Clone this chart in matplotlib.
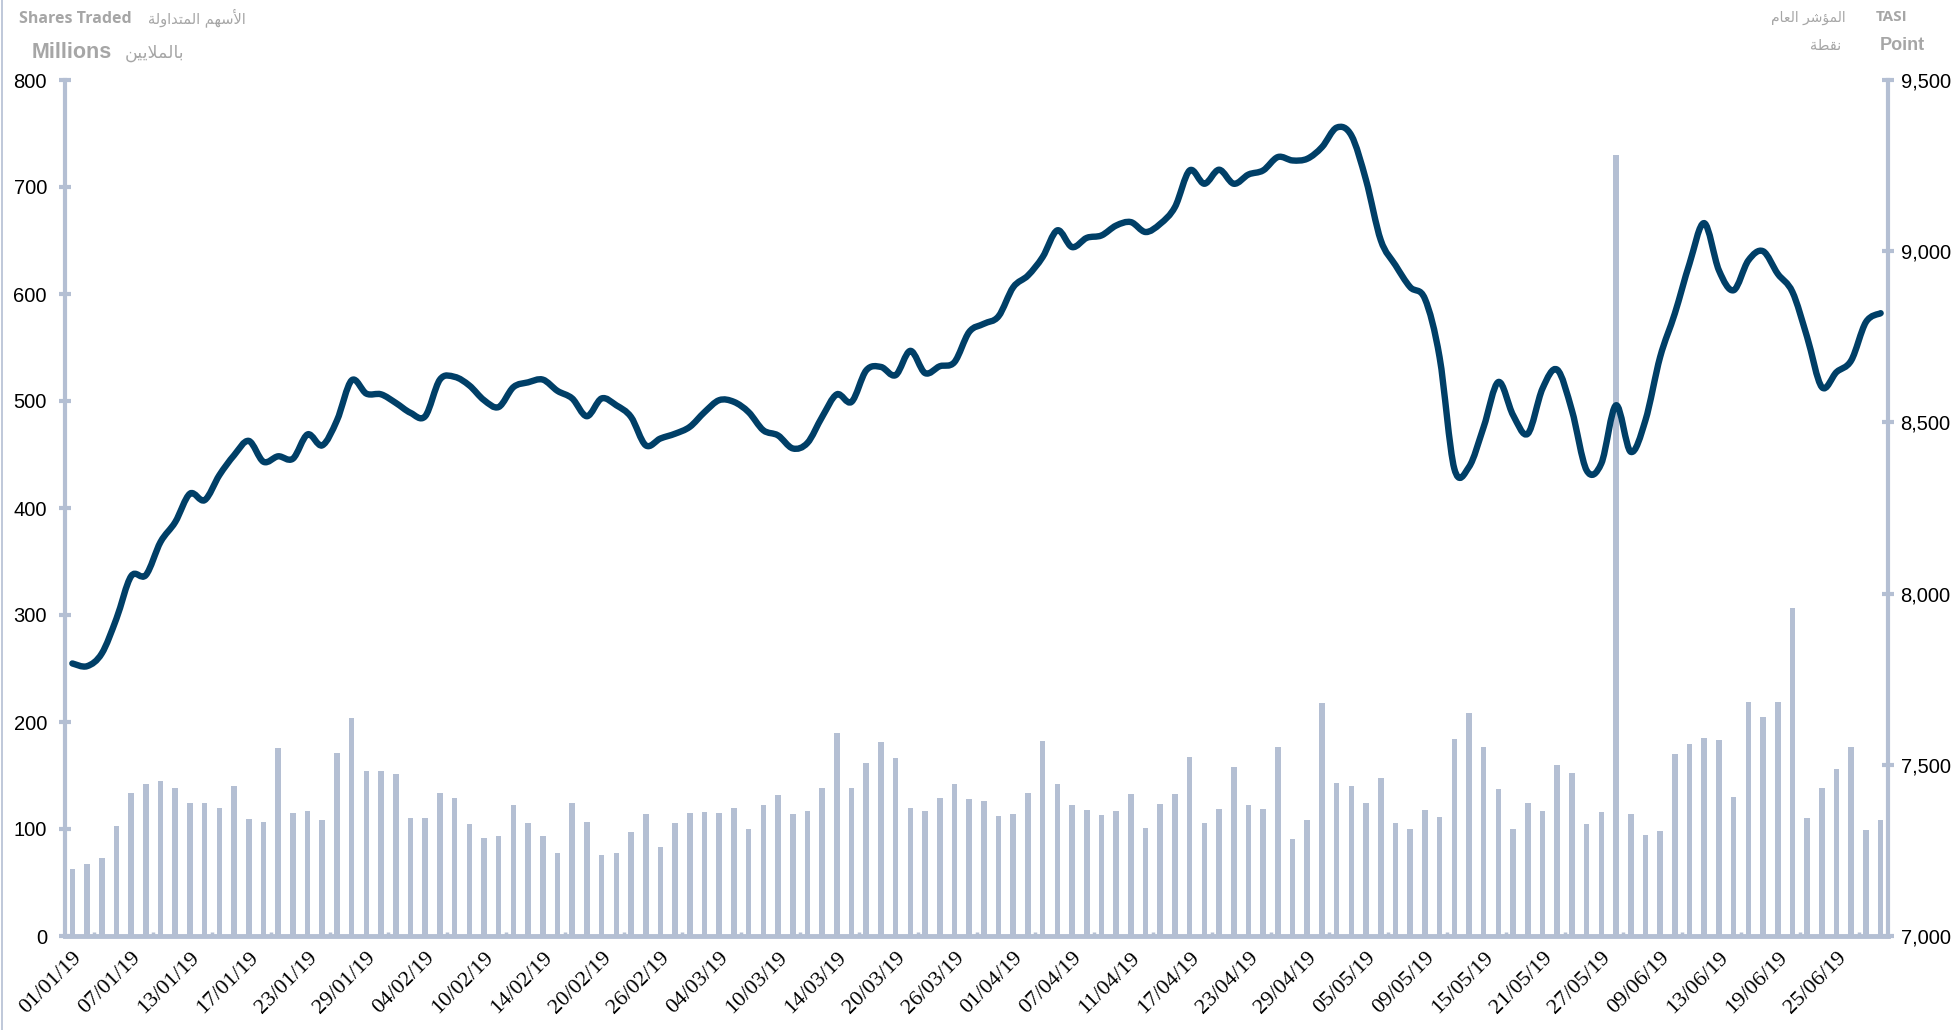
import numpy as np
import matplotlib
matplotlib.use("Agg")
import matplotlib.pyplot as plt
from matplotlib.path import Path
from matplotlib.patches import PathPatch
from matplotlib.lines import Line2D
from matplotlib.ticker import FuncFormatter, FixedLocator

# ---------------- data ----------------
jan = ["01", "02", "03", "06", "07", "08", "09", "10", "13", "14", "15", "16", "17", "20", "21",
       "22", "23", "24", "27", "28", "29", "30", "31"]
feb = ["03", "04", "05", "06", "07", "10", "11", "12", "13", "14", "17", "18", "19", "20", "21",
       "24", "25", "26", "27", "28"]
mar = ["03", "04", "05", "06", "07", "10", "11", "12", "13", "14", "17", "18", "19", "20", "21",
       "24", "25", "26", "27", "28", "31"]
apr = ["01", "02", "03", "04", "07", "08", "09", "10", "11", "14", "15", "16", "17", "18", "21",
       "22", "23", "24", "25", "28", "29", "30"]
may = ["01", "02", "05", "06", "07", "08", "09", "12", "13", "14", "15", "16", "19", "20", "21",
       "22", "23", "26", "27", "28", "29", "30"]
jun = ["09", "10", "11", "12", "13", "16", "17", "18", "19", "20", "23", "24", "25", "26", "27", "30"]
dates = ([f"{d}/01/19" for d in jan] + [f"{d}/02/19" for d in feb] + [f"{d}/03/19" for d in mar] +
         [f"{d}/04/19" for d in apr] + [f"{d}/05/19" for d in may] + [f"{d}/06/19" for d in jun])

shares_traded = [63, 67, 73, 103, 134, 142, 145, 138, 124, 124, 120, 140, 109, 107, 176, 115,
                 117, 108, 171, 204, 154, 154, 151, 110, 110, 134, 129, 105, 92, 93, 122, 106,
                 93, 78, 124, 107, 76, 78, 97, 114, 83, 106, 115, 116, 115, 120, 100, 122,
                 132, 114, 117, 138, 190, 138, 162, 181, 166, 120, 117, 129, 142, 128, 126, 112,
                 114, 134, 182, 142, 122, 118, 113, 117, 133, 101, 123, 133, 167, 106, 119, 158,
                 122, 119, 177, 91, 108, 218, 143, 140, 124, 148, 106, 100, 118, 111, 184, 208,
                 177, 137, 100, 124, 117, 160, 152, 105, 116, 730, 114, 94, 98, 170, 179, 185,
                 183, 130, 219, 205, 219, 307, 110, 138, 156, 177, 99, 108]

tasi = [7796, 7788, 7825, 7927, 8051, 8054, 8151, 8209, 8292, 8273, 8346, 8404, 8446, 8385, 8401, 8394,
        8465, 8433, 8506, 8623, 8584, 8582, 8557, 8528, 8518, 8625, 8633, 8608, 8565, 8545, 8603, 8617,
        8625, 8592, 8570, 8518, 8570, 8550, 8516, 8433, 8453, 8467, 8487, 8530, 8565, 8560, 8530, 8477,
        8462, 8424, 8440, 8516, 8582, 8560, 8652, 8662, 8638, 8709, 8644, 8664, 8676, 8764, 8788, 8810,
        8895, 8929, 8983, 9061, 9012, 9039, 9046, 9075, 9085, 9056, 9080, 9129, 9236, 9197, 9238, 9197,
        9224, 9236, 9275, 9265, 9270, 9304, 9361, 9338, 9207, 9032, 8959, 8895, 8861, 8690, 8365, 8370,
        8487, 8618, 8521, 8467, 8599, 8654, 8535, 8360, 8380, 8550, 8414, 8506, 8691, 8818, 8964, 9082,
        8944, 8886, 8973, 9000, 8934, 8881, 8749, 8603, 8647, 8681, 8793, 8819]

label_every = 4
left_ticks = [0, 100, 200, 300, 400, 500, 600, 700, 800]
right_ticks = [7000, 7500, 8000, 8500, 9000, 9500]

title_left_en = "Shares Traded"
title_left_ar = "الأسهم المتداولة"
unit_left_en = "Millions"
unit_left_ar = "بالملايين"
title_right_en = "TASI"
title_right_ar = "المؤشر العام"
unit_right_en = "Point"
unit_right_ar = "نقطة"

# ------------- Arabic shaping (presentation forms, visual order) -------------
AR_FORMS = {
    '\u0627': ('\uFE8D', '\uFE8E', None, None),
    '\u0623': ('\uFE83', '\uFE84', None, None),
    '\u0624': ('\uFE85', '\uFE86', None, None),
    '\u0628': ('\uFE8F', '\uFE90', '\uFE91', '\uFE92'),
    '\u0629': ('\uFE93', '\uFE94', None, None),
    '\u062A': ('\uFE95', '\uFE96', '\uFE97', '\uFE98'),
    '\u062F': ('\uFEA9', '\uFEAA', None, None),
    '\u0631': ('\uFEAD', '\uFEAE', None, None),
    '\u0633': ('\uFEB1', '\uFEB2', '\uFEB3', '\uFEB4'),
    '\u0634': ('\uFEB5', '\uFEB6', '\uFEB7', '\uFEB8'),
    '\u0637': ('\uFEC1', '\uFEC2', '\uFEC3', '\uFEC4'),
    '\u0639': ('\uFEC9', '\uFECA', '\uFECB', '\uFECC'),
    '\u0642': ('\uFED5', '\uFED6', '\uFED7', '\uFED8'),
    '\u0644': ('\uFEDD', '\uFEDE', '\uFEDF', '\uFEE0'),
    '\u0645': ('\uFEE1', '\uFEE2', '\uFEE3', '\uFEE4'),
    '\u0646': ('\uFEE5', '\uFEE6', '\uFEE7', '\uFEE8'),
    '\u0647': ('\uFEE9', '\uFEEA', '\uFEEB', '\uFEEC'),
    '\u0648': ('\uFEED', '\uFEEE', None, None),
    '\u064A': ('\uFEF1', '\uFEF2', '\uFEF3', '\uFEF4'),
    'LA': ('\uFEFB', '\uFEFC', None, None),
    'LAH': ('\uFEF7', '\uFEF8', None, None),
}


def shape_ar(s):
    units = []
    i = 0
    while i < len(s):
        c = s[i]
        if c == '\u0644' and i + 1 < len(s) and s[i + 1] in ('\u0627', '\u0623'):
            units.append('LA' if s[i + 1] == '\u0627' else 'LAH')
            i += 2
            continue
        units.append(c)
        i += 1
    out = []
    for k, u in enumerate(units):
        if u not in AR_FORMS:
            out.append(u)
            continue
        f = AR_FORMS[u]
        prev = units[k - 1] if k > 0 else None
        nxt = units[k + 1] if k + 1 < len(units) else None
        jp = prev in AR_FORMS and AR_FORMS[prev][2] is not None
        jn = f[2] is not None and nxt in AR_FORMS
        if jp and jn:
            g = f[3]
        elif jp:
            g = f[1]
        elif jn:
            g = f[2]
        else:
            g = f[0]
        out.append(g)
    return ''.join(reversed(out))


# ---------------- style ----------------
W, H = 1959, 1030
BAR = "#B4BFD3"
LINE = "#003F67"
GRAY = "#A6A6A6"

fig = plt.figure(figsize=(W / 100, H / 100), dpi=100)
fig.patch.set_facecolor("white")
L, R, T, B = 65, 1888, 80, 936
ax = fig.add_axes([L / W, 1 - B / H, (R - L) / W, (B - T) / H])

x = np.arange(len(dates))
ax.bar(x, shares_traded, width=0.38, color=BAR, zorder=2)
ax.set_xlim(-0.5, len(dates) - 0.5)
ax.set_ylim(left_ticks[0], left_ticks[-1])
ax.yaxis.set_major_locator(FixedLocator(left_ticks))

ax2 = ax.twinx()
ax2.set_ylim(right_ticks[0], right_ticks[-1])
ax2.yaxis.set_major_locator(FixedLocator(right_ticks))
ax2.yaxis.set_major_formatter(FuncFormatter(lambda v, p: f"{v:,.0f}"))

# smoothed line (Excel-style Bezier through the data points)
pts = np.column_stack([x, np.array(tasi, dtype=float)])
verts = [pts[0]]
codes = [Path.MOVETO]
n = len(pts)
for k in range(n - 1):
    p0 = pts[k - 1] if k > 0 else pts[k]
    p1 = pts[k]
    p2 = pts[k + 1]
    p3 = pts[k + 2] if k + 2 < n else pts[k + 1]
    c1 = p1 + (p2 - p0) / 6.0
    c2 = p2 - (p3 - p1) / 6.0
    verts += [c1, c2, p2]
    codes += [Path.CURVE4] * 3
patch = PathPatch(Path(verts, codes), facecolor="none", edgecolor=LINE, lw=4.6,
                  capstyle="round", joinstyle="round", zorder=3)
ax2.add_patch(patch)

# spines
for a in (ax, ax2):
    a.spines["top"].set_visible(False)
ax.spines["right"].set_visible(False)
ax2.spines["left"].set_visible(False)
ax2.spines["bottom"].set_visible(False)
ax.spines["left"].set_color(BAR)
ax.spines["left"].set_linewidth(3)
ax.spines["bottom"].set_color(BAR)
ax.spines["bottom"].set_linewidth(3.5)
ax2.spines["right"].set_color(BAR)
ax2.spines["right"].set_linewidth(3)

ax.tick_params(axis="y", direction="inout", length=8, width=3, color=BAR,
               labelsize=14.5, pad=9, labelcolor="black")
ax2.tick_params(axis="y", direction="inout", length=8, width=3, color=BAR,
                labelsize=14.5, pad=5, labelcolor="black")
for lab in ax.get_yticklabels() + ax2.get_yticklabels():
    lab.set_fontfamily("Liberation Sans")

# x axis
major = x[::label_every]
ax.xaxis.set_major_locator(FixedLocator(major))
ax.set_xticklabels([dates[i] for i in major], rotation=45, ha="right", va="top",
                   rotation_mode="anchor", fontsize=16, fontfamily="Liberation Serif")
ax.tick_params(axis="x", which="major", length=0, pad=9)
ax.xaxis.set_minor_locator(FixedLocator(np.arange(1.5, len(dates) - 1, label_every)))
ax.tick_params(axis="x", which="minor", direction="in", length=3, width=2.5, color=BAR)

# titles
def px(xp, yp):
    return xp / W, 1 - yp / H

fig.text(*px(19, 19), title_left_en, ha="left", va="center", fontfamily="Open Sans",
         fontweight="bold", fontsize=11.5, color=GRAY)
fig.text(*px(246, 18), shape_ar(title_left_ar), ha="right", va="center",
         fontfamily="DejaVu Sans", fontsize=10.5, color=GRAY)
fig.text(*px(32, 52), unit_left_en, ha="left", va="center", fontfamily="Liberation Sans",
         fontweight="bold", fontsize=15.5, color=GRAY)
fig.text(*px(184, 53), shape_ar(unit_left_ar), ha="right", va="center",
         fontfamily="DejaVu Sans", fontsize=12.5, color=GRAY)
fig.text(*px(1908, 17), title_right_en, ha="right", va="center", fontfamily="Open Sans",
         fontweight="bold", fontsize=11, color=GRAY)
fig.text(*px(1846, 18), shape_ar(title_right_ar), ha="right", va="center",
         fontfamily="DejaVu Sans", fontsize=10, color=GRAY)
fig.text(*px(1925, 46), unit_right_en, ha="right", va="center", fontfamily="Liberation Sans",
         fontweight="bold", fontsize=13, color=GRAY)
fig.text(*px(1841, 46), shape_ar(unit_right_ar), ha="right", va="center",
         fontfamily="DejaVu Sans", fontsize=10.5, color=GRAY)

# chart-area border on the left edge
fig.add_artist(Line2D([1.5 / W, 1.5 / W], [0, 1], transform=fig.transFigure, color=BAR, lw=1.2))

fig.savefig("out.png", dpi=100, facecolor="white")
